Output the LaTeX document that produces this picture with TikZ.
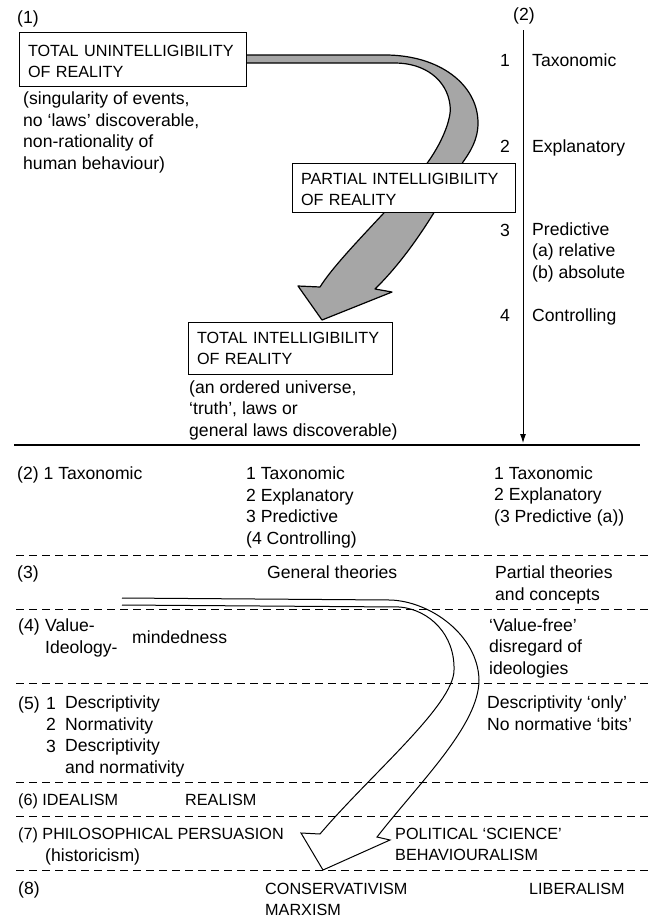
\documentclass[tikz,border=0pt]{standalone}
\usepackage{fontspec}
\setmainfont{Liberation Sans}
\usetikzlibrary{arrows.meta}

% multi-line texts sit on the baseline of their last line
\tikzset{
  txt/.style={anchor=base west,inner sep=0pt,align=left,font=\fontsize{17.6}{21.5}\selectfont},
  capstxt/.style={txt,font=\fontsize{16.2}{21}\selectfont},
  num/.style={txt,anchor=base east,align=right},
  box/.style={draw,fill=white,line width=0.9pt,anchor=north west,inner xsep=9pt,inner ysep=0pt,outer sep=0pt,align=left,font=\fontsize{16.2}{21}\selectfont},
  sep/.style={dash pattern=on 8pt off 5pt,line width=0.7pt},
}

\begin{document}
\begin{tikzpicture}[x=1pt,y=-1pt]
\useasboundingbox (0,0) rectangle (657,921);

% grey arrow (1)
\draw[line width=1.2pt,fill=black!35,line join=round]
  (246,55) -- (385,55) .. controls (440,55) and (478,85) .. (478,123)
  .. controls (478,140) and (470,152) .. (463,162)
  .. controls (445,195) and (415,250) .. (375,289)
  -- (392,292) -- (322,320) -- (298,286) -- (320,287)
  .. controls (340,255) and (400,200) .. (428,162)
  .. controls (445,138) and (452,115) .. (450,105)
  .. controls (447,80) and (425,63) .. (395,63) -- (246,63);

\node (one) [txt] at (17,23) {(1)};
\node (unint) [box,minimum width=227pt,minimum height=54pt,text width=209pt] at (19,32)
  {\rule{0pt}{17pt}TOTAL UNINTELLIGIBILITY\\OF REALITY};
\node (unintdesc) [txt] at (23,169) {(singularity of events,\\no ‘laws’ discoverable,\\non-rationality of\\human behaviour)};
\node (partial) [box,minimum width=223pt,minimum height=49pt,text width=205pt] at (292,163)
  {\rule{0pt}{16pt}PARTIAL INTELLIGIBILITY\\OF REALITY};
\node (total) [box,minimum width=204pt,minimum height=52pt,text width=186pt] at (188,322)
  {\rule{0pt}{13pt}TOTAL INTELLIGIBILITY\\OF REALITY};
\node (totaldesc) [txt] at (189,436) {(an ordered universe,\\‘truth’, laws or\\general laws discoverable)};

% scale (2)
\node (two) [txt] at (513,20) {(2)};
\coordinate (scaletop) at (523,30);
\coordinate (scalebot) at (523,443);
\draw[line width=0.9pt,-{Latex[length=9pt,width=6pt]}] (scaletop) -- (scalebot);
\node (n1) [num] at (510,66) {1};
\node (taxo) [txt] at (532,66) {Taxonomic};
\node (n2) [num] at (510,152) {2};
\node (expl) [txt] at (532,152) {Explanatory};
\node (n3) [num] at (510,236) {3};
\node (pred) [txt] at (532,278) {Predictive\\(a) relative\\(b) absolute};
\node (n4) [num] at (510,321) {4};
\node (contr) [txt] at (532,321) {Controlling};

\draw[line width=1.1pt] (14,445) -- (640,445);
\foreach \y in {555,609,683,782,816,870}
  \draw[sep] (16,\y) -- (649,\y);

% white arrow
\draw[line width=1pt,line join=miter]
  (122,598) -- (390,600) .. controls (430,601) and (478,635) .. (479,680)
  .. controls (479,725) and (420,782) .. (377,837)
  -- (390,840) -- (323,870) -- (301,833) -- (320,834)
  .. controls (370,775) and (454,705) .. (454,670)
  .. controls (455,635) and (430,610) .. (400,607) -- (122,605);

% rows
\node (r2) [txt] at (17,479) {(2) 1 Taxonomic};
\node (r2b) [txt] at (246,544) {1 Taxonomic\\2 Explanatory\\3 Predictive\\(4 Controlling)};
\node (r2c) [txt] at (494,522) {1 Taxonomic\\2 Explanatory\\(3 Predictive (a))};

\node (r3) [txt] at (17,578) {(3)};
\node (r3b) [txt] at (267,578) {General theories};
\node (r3c) [txt] at (495,600) {Partial theories\\and concepts};

\node (r4) [txt] at (18,631) {(4)};
\node (r4a) [txt] at (45,653) {Value-\\Ideology-};
\node (r4b) [txt] at (132,643) {mindedness};
\node (r4c) [txt] at (489,674) {‘Value-free’\\disregard of\\ideologies};

\node (r5) [txt] at (18,709) {(5)};
\node (r5n) [txt] at (46,752) {1\\2\\3};
\node (r5a) [txt] at (65,773) {Descriptivity\\Normativity\\Descriptivity\\and normativity};
\node (r5c) [txt] at (487,730) {Descriptivity ‘only’\\No normative ‘bits’};

\node (r6) [capstxt] at (18,805) {(6) IDEALISM};
\node (r6b) [capstxt] at (185,805) {REALISM};

\node (r7) [capstxt] at (18,839) {(7) PHILOSOPHICAL PERSUASION};
\node (r7a) [txt] at (45,861) {(historicism)};
\node (r7c) [capstxt] at (395,860) {POLITICAL ‘SCIENCE’\\BEHAVIOURALISM};

\node (r8) [txt] at (18,894) {(8)};
\node (r8b) [capstxt] at (265,915) {CONSERVATIVISM\\MARXISM};
\node (r8c) [capstxt] at (529,894) {LIBERALISM};
\end{tikzpicture}
\end{document}
